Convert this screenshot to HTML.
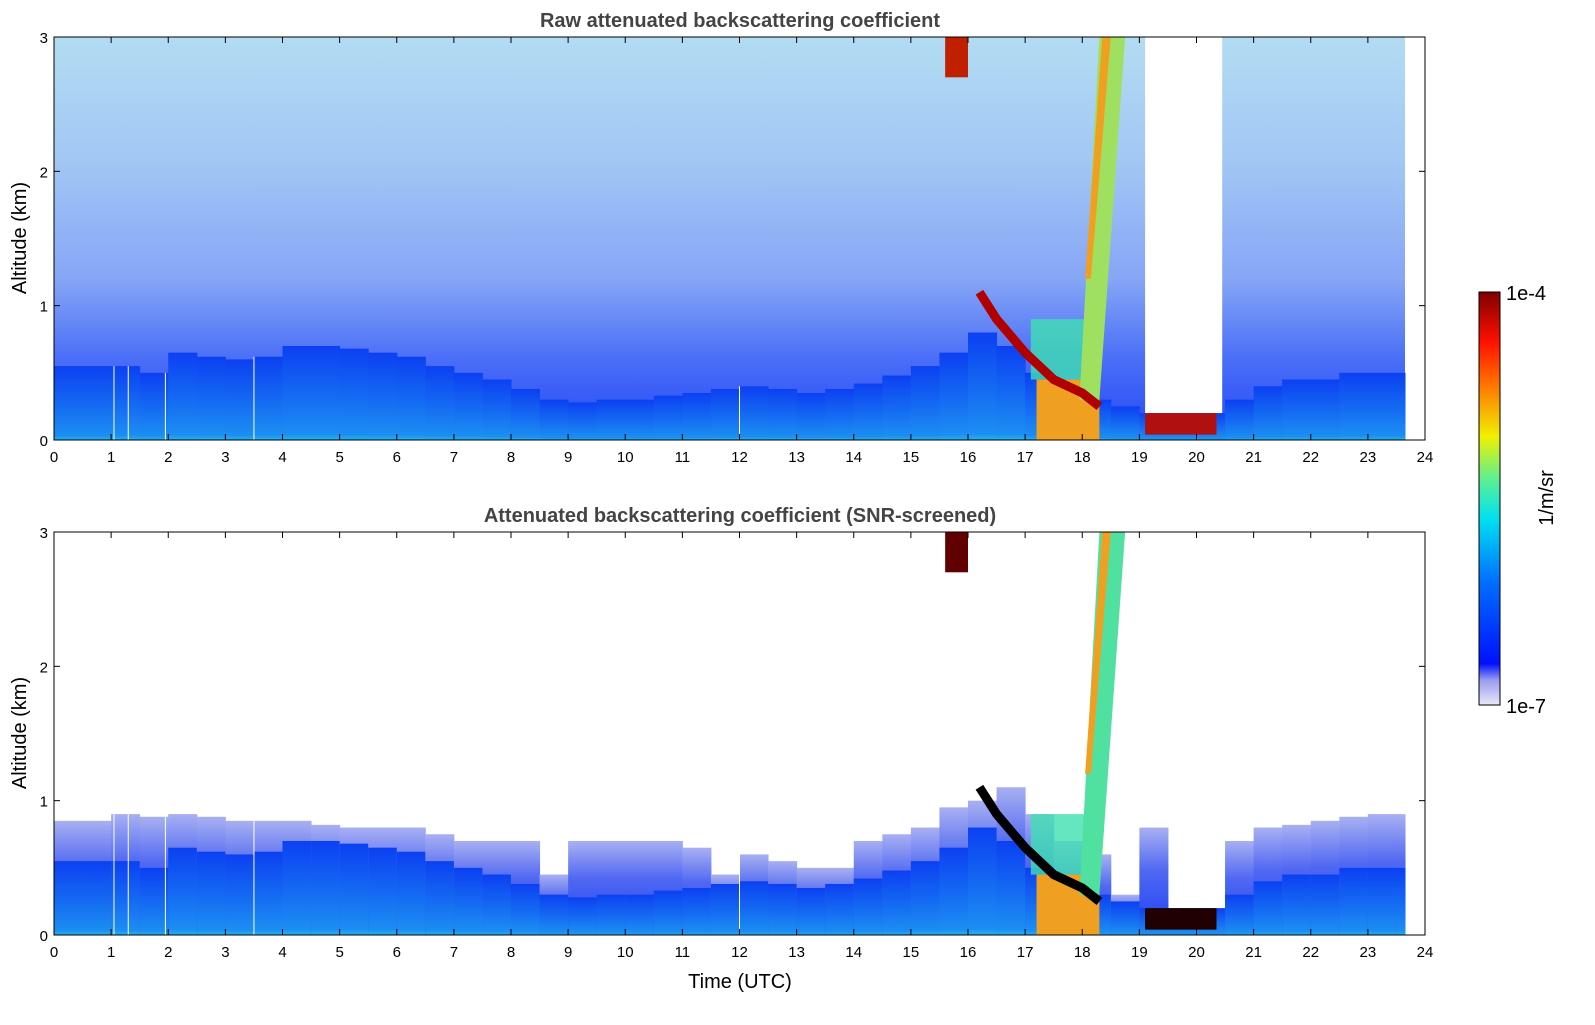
<!DOCTYPE html>
<html><head><meta charset="utf-8"><style>
body{margin:0;background:#fff;width:1595px;height:1020px;overflow:hidden;font-family:"Liberation Sans","DejaVu Sans",sans-serif}
</style></head><body>
<svg id="chart" width="1595" height="1020" xmlns="http://www.w3.org/2000/svg" font-family="Liberation Sans, DejaVu Sans, sans-serif">
<defs>
<linearGradient id="noise" x1="0" y1="1" x2="0" y2="0">
<stop offset="0" stop-color="#2448f6"/><stop offset="0.2" stop-color="#4a6ef7"/><stop offset="0.4" stop-color="#86a6f6"/><stop offset="0.7" stop-color="#a2c8f4"/><stop offset="1" stop-color="#b2dcf2"/>
</linearGradient>
<linearGradient id="bl" x1="0" y1="1" x2="0" y2="0">
<stop offset="0" stop-color="#22b4f0"/><stop offset="0.06" stop-color="#1c8ef2"/><stop offset="0.5" stop-color="#1468f2"/><stop offset="1" stop-color="#0c40f2"/>
</linearGradient>
<linearGradient id="halo" x1="0" y1="1" x2="0" y2="0">
<stop offset="0" stop-color="#1c40f2"/><stop offset="0.6" stop-color="#5068f2"/><stop offset="1" stop-color="#a8b0f2"/>
</linearGradient>
<linearGradient id="cbar" x1="0" y1="1" x2="0" y2="0">
<stop offset="0" stop-color="#e8e8f8"/><stop offset="0.06" stop-color="#9a9cf0"/><stop offset="0.1" stop-color="#0010ff"/><stop offset="0.3" stop-color="#0070ff"/><stop offset="0.45" stop-color="#00e0f0"/><stop offset="0.55" stop-color="#60f090"/><stop offset="0.65" stop-color="#f0f000"/><stop offset="0.78" stop-color="#ff7000"/><stop offset="0.88" stop-color="#ff1000"/><stop offset="1" stop-color="#800000"/>
</linearGradient>
</defs>
<g id="panels"></g>
<text x="740" y="988" font-size="20" text-anchor="middle" fill="#000">Time (UTC)</text>
<g>
<rect x="1479" y="292" width="21" height="413" fill="url(#cbar)" stroke="#000" stroke-width="1"/>
<text x="1506" y="300" font-size="20">1e-4</text>
<text x="1506" y="713" font-size="20">1e-7</text>
<text transform="translate(1553,498) rotate(-90)" font-size="20" text-anchor="middle">1/m/sr</text>
</g>
</svg>
<script>
const hours=[0,0.5,1,1.5,2,2.5,3,3.5,4,4.5,5,5.5,6,6.5,7,7.5,8,8.5,9,9.5,10,10.5,11,11.5,12,12.5,13,13.5,14,14.5,15,15.5,16,16.5,17,17.5,18,18.5,19,19.5,20,20.5,21,21.5,22,22.5,23,23.5];
const blTop=[0.55,0.55,0.55,0.5,0.65,0.62,0.6,0.62,0.7,0.7,0.68,0.65,0.62,0.55,0.5,0.45,0.38,0.3,0.28,0.3,0.3,0.33,0.35,0.38,0.4,0.38,0.35,0.38,0.42,0.48,0.55,0.65,0.8,0.7,0.5,0.4,0.3,0.25,0.2,0.2,0.2,0.3,0.4,0.45,0.45,0.5,0.5,0.5];
const haloTop=[0.85,0.85,0.9,0.88,0.9,0.88,0.85,0.85,0.85,0.82,0.8,0.8,0.8,0.75,0.7,0.7,0.7,0.45,0.7,0.7,0.7,0.7,0.65,0.45,0.6,0.55,0.5,0.5,0.7,0.75,0.8,0.95,1.0,1.1,0.9,0.7,0.6,0.3,0.8,0.2,0.2,0.7,0.8,0.82,0.85,0.88,0.9,0.9];
const cloudBaseT=[16.2,16.5,17,17.5,18,18.3];
const cloudBaseH=[1.1,0.9,0.65,0.45,0.35,0.25];
const whiteLines=[1.05,1.3,1.95,3.5,12];
const endT=23.65;
const NS="http://www.w3.org/2000/svg";
const X=t=>54+t*(1371/24);
function mk(tag,attrs,parent){const e=document.createElementNS(NS,tag);for(const k in attrs)e.setAttribute(k,attrs[k]);parent.appendChild(e);return e;}
function panel(y0,screened,title){
  const Y=h=>y0+403-h*(403/3);
  const g=mk('g',{},document.getElementById('panels'));
  
  
  if(!screened){
    const r=mk('rect',{x:X(0),y:Y(3),width:X(endT)-X(0),height:403,fill:'url(#noise)'},g);
    
    const gap=mk('rect',{x:X(19.1),y:Y(3),width:X(20.45)-X(19.1),height:Y(0.2)-Y(3),fill:'#fff'},g);
    
  }
  hours.forEach((t,i)=>{
    const w=Math.min(0.5,endT-t);
    if(screened){
      const hr=mk('rect',{x:X(t),y:Y(haloTop[i]),width:X(t+w)-X(t)+0.5,height:Y(0)-Y(haloTop[i]),fill:'url(#halo)'},g);
      
    }
    const c=mk('rect',{x:X(t),y:Y(blTop[i]),width:X(t+w)-X(t)+0.5,height:Y(0)-Y(blTop[i]),fill:'url(#bl)'},g);
    
  });
  const p=mk('rect',{x:X(17.2),y:Y(0.45),width:X(18.3)-X(17.2),height:Y(0)-Y(0.45),fill:'#f0a020'},g);
  
  const p2=mk('rect',{x:X(17.1),y:Y(0.9),width:X(18.2)-X(17.1),height:Y(0.45)-Y(0.9),fill:'#40e0b0',opacity:0.8},g);
  
  const s=mk('polygon',{points:`${X(17.95)},${Y(0.3)} ${X(18.3)},${Y(0.3)} ${X(18.75)},${Y(3)} ${X(18.3)},${Y(3)}`,fill:screened?'#50e0a0':'#a0e060'},g);
  
  const s2=mk('polygon',{points:`${X(18.05)},${Y(1.2)} ${X(18.15)},${Y(1.2)} ${X(18.5)},${Y(3)} ${X(18.35)},${Y(3)}`,fill:'#f0a020'},g);
  
  const pts=cloudBaseT.map((t,i)=>X(t)+','+Y(cloudBaseH[i])).join(' ');
  const cl=mk('polyline',{points:pts,fill:'none',stroke:screened?'#000':'#b00000','stroke-width':9},g);
  
  const lc=mk('rect',{x:X(19.1),y:Y(0.2),width:X(20.35)-X(19.1),height:Y(0.04)-Y(0.2),fill:screened?'#200000':'#b01010'},g);
  
  const hc=mk('rect',{x:X(15.6),y:Y(3),width:X(16)-X(15.6),height:Y(2.7)-Y(3),fill:screened?'#600000':'#c02000'},g);
  
  whiteLines.forEach(t=>{
    const l=mk('line',{x1:X(t),x2:X(t),y1:Y(screened?haloTop[Math.floor(t*2)]:blTop[Math.floor(t*2)]),y2:Y(0),stroke:'#fff','stroke-width':1},g);
    
  });
  const fr=mk('rect',{x:54,y:y0,width:1371,height:403,fill:'none',stroke:'#000','stroke-width':1},g);
  
  for(let h=0;h<=24;h++){
    mk('line',{x1:X(h),x2:X(h),y1:y0+403,y2:y0+397,stroke:'#000'},g);
    mk('line',{x1:X(h),x2:X(h),y1:y0,y2:y0+6,stroke:'#000'},g);
    const tl=mk('text',{x:X(h),y:y0+425,'font-size':15,'text-anchor':'middle'},g);
    tl.textContent=h;
    
  }
  for(let k=0;k<=3;k++){
    mk('line',{x1:54,x2:60,y1:Y(k),y2:Y(k),stroke:'#000'},g);
    mk('line',{x1:1419,x2:1425,y1:Y(k),y2:Y(k),stroke:'#000'},g);
    const tl=mk('text',{x:48,y:Y(k)+6,'font-size':15,'text-anchor':'end'},g);
    tl.textContent=k;
    
  }
  const yt=mk('text',{transform:`translate(26,${y0+201}) rotate(-90)`,'font-size':20,'text-anchor':'middle'},g);
  yt.textContent='Altitude (km)';
  
  const tt=mk('text',{x:740,y:y0-10,'font-size':20,'font-weight':'bold','text-anchor':'middle',fill:'#444'},g);
  tt.textContent=title;
  
}
panel(37,false,'Raw attenuated backscattering coefficient');
panel(532,true,'Attenuated backscattering coefficient (SNR-screened)');
</script>
</body></html>
